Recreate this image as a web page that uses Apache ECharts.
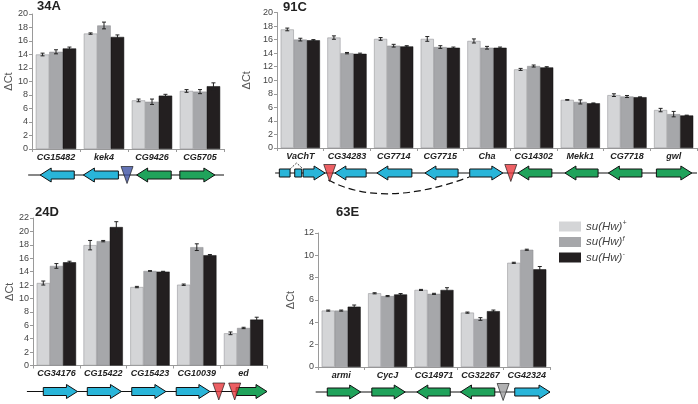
<!DOCTYPE html>
<html>
<head>
<meta charset="utf-8">
<script src="https://cdn.jsdelivr.net/npm/echarts@6.0.0/dist/echarts.min.js"></script>
<style>
  html, body { margin: 0; padding: 0; background: #fff; }
  #chart { width: 698px; height: 404px; }
</style>
</head>
<body>
<div id="chart"></div>
<script>
// series names
const seriesNames = ['su(Hw)+', 'su(Hw)f', 'su(Hw)-'];

// 34A
const cats34A = ['CG15482', 'kek4', 'CG9426', 'CG5705'];
const plus34A = [14.0, 17.1, 7.2, 8.6];
const flat34A = [14.4, 18.3, 7.0, 8.5];
const minus34A = [14.9, 16.6, 7.9, 9.3];
const errPlus34A = [0.2, 0.1, 0.2, 0.2];
const errFlat34A = [0.3, 0.5, 0.4, 0.3];
const errMinus34A = [0.2, 0.3, 0.2, 0.5];

// 91C
const cats91C = ['VaChT', 'CG34283', 'CG7714', 'CG7715', 'Cha', 'CG14302', 'Mekk1', 'CG7718', 'gwl'];
const plus91C = [17.5, 16.3, 16.1, 16.1, 15.8, 11.6, 7.1, 7.8, 5.6];
const flat91C = [16.0, 14.0, 15.1, 14.9, 14.8, 12.1, 6.8, 7.6, 5.0];
const minus91C = [15.9, 13.9, 15.0, 14.8, 14.8, 11.9, 6.6, 7.5, 4.8];
const errPlus91C = [0.2, 0.25, 0.2, 0.35, 0.3, 0.15, 0.05, 0.2, 0.25];
const errFlat91C = [0.2, 0.1, 0.2, 0.2, 0.2, 0.15, 0.3, 0.15, 0.4];
const errMinus91C = [0.1, 0.1, 0.1, 0.1, 0.1, 0.1, 0.05, 0.05, 0.05];

// 24D
const cats24D = ['CG34176', 'CG15422', 'CG15423', 'CG10039', 'ed'];
const plus24D = [12.3, 17.95, 11.7, 12.05, 4.8];
const flat24D = [14.85, 18.55, 14.1, 17.65, 5.6];
const minus24D = [15.4, 20.65, 14.0, 16.45, 6.85];
const errPlus24D = [0.3, 0.7, 0.1, 0.1, 0.2];
const errFlat24D = [0.35, 0.1, 0.05, 0.5, 0.1];
const errMinus24D = [0.15, 0.8, 0.05, 0.1, 0.35];

// 63E
const cats63E = ['armi', 'CycJ', 'CG14971', 'CG32267', 'CG42324'];
const plus63E = [5.05, 6.6, 6.9, 4.87, 9.33];
const flat63E = [5.05, 6.35, 6.55, 4.3, 10.5];
const minus63E = [5.4, 6.5, 6.9, 5.0, 8.75];
const errPlus63E = [0.05, 0.05, 0.05, 0.05, 0.05];
const errFlat63E = [0.05, 0.05, 0.05, 0.12, 0.05];
const errMinus63E = [0.15, 0.08, 0.2, 0.1, 0.25];

// gene maps, in category units: [start, end, strand, group]
const track34A = [-0.08, 4.0];
const genes34A = [[0.17, 0.88, -1, 'A'], [1.07, 1.8, -1, 'A'], [2.18, 2.9, -1, 'B'], [3.08, 3.81, 1, 'B']];
const sites34A = [[1.98, 'blue']];

const track91C = [-0.04, 9.0];
const genes91C = [[0.56, 1.03, 1, 'A'], [1.24, 1.91, -1, 'A'], [2.14, 2.89, -1, 'A'], [3.17, 3.88, -1, 'A'],
  [4.13, 4.84, 1, 'A'], [5.16, 5.89, -1, 'B'], [6.17, 6.88, -1, 'B'], [7.1, 7.82, -1, 'B'], [8.13, 8.89, 1, 'B']];
const sites91C = [[1.13, 'red'], [5.01, 'red']];
const exons91C = [[0.05, 0.28], [0.38, 0.53]];
const caret91C = [0.28, 0.56];
const splice91C = [1.1, 4.12];

const track24D = [-0.13, 5.0];
const genes24D = [[0.22, 0.95, 1, 'A'], [1.16, 1.89, 1, 'A'], [2.11, 2.84, 1, 'A'], [3.06, 3.78, 1, 'A'], [4.34, 5.0, 1, 'B']];
const sites24D = [[-0.01, 'gray'], [3.97, 'red'], [4.31, 'red']];

const track63E = [-0.05, 5.0];
const genes63E = [[0.2, 0.92, 1, 'B'], [1.16, 1.88, 1, 'B'], [2.13, 2.85, -1, 'B'], [3.07, 3.81, -1, 'B'], [4.24, 5.0, 1, 'A']];
const sites63E = [[-0.01, 'red'], [3.99, 'gray']];

const barColors = ['#d4d5d7', '#a6a7aa', '#231f20'];
const geneColors = { A: '#29b5d9', B: '#20a35b' };
const siteColors = { red: '#e8383d', gray: '#9d9d9f', blue: '#3d51a3' };
const font = "'Liberation Sans', Arial, sans-serif";
const gapRatio = 0.16;

const panels = [
  { title: '34A', cats: cats34A, vals: [plus34A, flat34A, minus34A], errs: [errPlus34A, errFlat34A, errMinus34A],
    max: 20, track: track34A, genes: genes34A, sites: sites34A,
    box: { left: 32, top: 14, width: 192, height: 135 }, row: 175, nameGap: 16, titlePos: [37, 0] },
  { title: '91C', cats: cats91C, vals: [plus91C, flat91C, minus91C], errs: [errPlus91C, errFlat91C, errMinus91C],
    max: 20, track: track91C, genes: genes91C, sites: sites91C, exons: exons91C, caret: caret91C, splice: splice91C,
    box: { left: 277, top: 12.5, width: 420, height: 135.5 }, row: 173, nameGap: 21, titlePos: [283, 1] },
  { title: '24D', cats: cats24D, vals: [plus24D, flat24D, minus24D], errs: [errPlus24D, errFlat24D, errMinus24D],
    max: 22, track: track24D, genes: genes24D, sites: sites24D,
    box: { left: 33, top: 218, width: 234, height: 147.5 }, row: 391.5, nameGap: 17, titlePos: [35, 206] },
  { title: '63E', cats: cats63E, vals: [plus63E, flat63E, minus63E], errs: [errPlus63E, errFlat63E, errMinus63E],
    max: 12, track: track63E, genes: genes63E, sites: sites63E,
    box: { left: 318, top: 233, width: 232, height: 134 }, row: 392, nameGap: 22, titlePos: [336, 206] }
];

const grid = [], xAxis = [], yAxis = [], series = [], title = [];

function arrowShape(x0, x1, y, dir) {
  const b = 4, h = 7, hl = 11;
  if (dir > 0) {
    return [[x0, y - b], [x1 - hl, y - b], [x1 - hl, y - h], [x1, y], [x1 - hl, y + h], [x1 - hl, y + b], [x0, y + b]];
  }
  return [[x1, y - b], [x0 + hl, y - b], [x0 + hl, y - h], [x0, y], [x0 + hl, y + h], [x0 + hl, y + b], [x1, y + b]];
}

panels.forEach((p, pi) => {
  const bg = pi * 2, gg = pi * 2 + 1;
  title.push({ text: p.title, left: p.titlePos[0], top: p.titlePos[1], padding: 0,
    textStyle: { fontFamily: font, fontSize: 13, fontWeight: 'bold', color: '#222' } });

  grid.push(Object.assign({ outerBoundsMode: 'none', containLabel: false }, p.box));
  grid.push({ outerBoundsMode: 'none', containLabel: false, left: p.box.left, width: p.box.width, top: p.row - 15, height: 30 });

  xAxis.push({
    type: 'category', gridIndex: bg, data: p.cats,
    axisLine: { lineStyle: { color: '#9a9a9a', width: 1 } },
    axisTick: { show: true, length: 3, interval: 0, lineStyle: { color: '#9a9a9a' } },
    axisLabel: { interval: 0, margin: 4, fontFamily: font, fontSize: 9, fontStyle: 'italic', fontWeight: 'bold', color: '#222' }
  });
  xAxis.push({ type: 'value', gridIndex: gg, min: 0, max: p.cats.length, show: false });

  yAxis.push({
    type: 'value', gridIndex: bg, min: 0, max: p.max, interval: 2,
    name: 'ΔCt', nameLocation: 'middle', nameGap: p.nameGap,
    nameTextStyle: { fontFamily: font, fontSize: 11, color: '#555' },
    axisLine: { show: true, lineStyle: { color: '#9a9a9a', width: 1 } },
    axisTick: { show: true, length: 3, lineStyle: { color: '#9a9a9a' } },
    axisLabel: { margin: 4, fontFamily: font, fontSize: 9, color: '#444' },
    splitLine: { show: false }
  });
  yAxis.push({ type: 'value', gridIndex: gg, min: 0, max: 1, show: false });

  // bars
  p.vals.forEach((vals, si) => {
    series.push({
      type: 'bar', name: seriesNames[si], xAxisIndex: bg, yAxisIndex: bg, data: vals,
      barGap: '0%', barCategoryGap: (gapRatio * 100) + '%',
      itemStyle: { color: barColors[si], borderColor: si === 2 ? '#111' : '#8a8b8e', borderWidth: 0.5 },
      emphasis: { disabled: true }, animation: false
    });
  });

  // error bars
  p.vals.forEach((vals, si) => {
    const off = si - 1;
    series.push({
      type: 'custom', xAxisIndex: bg, yAxisIndex: bg, z: 5, animation: false, silent: true,
      encode: { x: 0, y: 1 },
      data: vals.map((v, i) => [i, v, p.errs[si][i]]),
      renderItem: (params, api) => {
        const i = api.value(0), v = api.value(1), e = api.value(2);
        const band = api.size([1, 0])[0];
        const bw = band * (1 - gapRatio) / 3;
        const x = api.coord([i, v])[0] + off * bw;
        const hi = api.coord([i, v + e])[1];
        const lo = api.coord([i, v - e])[1];
        const st = { stroke: '#222', lineWidth: 1 };
        return { type: 'group', children: [
          { type: 'line', shape: { x1: x, y1: hi, x2: x, y2: lo }, style: st },
          { type: 'line', shape: { x1: x - 2, y1: hi, x2: x + 2, y2: hi }, style: st },
          { type: 'line', shape: { x1: x - 2, y1: lo, x2: x + 2, y2: lo }, style: st }
        ] };
      }
    });
  });

  // backbone line of the gene map
  series.push({
    type: 'custom', xAxisIndex: gg, yAxisIndex: gg, animation: false, silent: true, z: 2,
    data: [[p.track[0], p.track[1]]], encode: { x: [0, 1] },
    renderItem: (params, api) => {
      const a = api.coord([api.value(0), 0.5]), b = api.coord([api.value(1), 0.5]);
      return { type: 'line', shape: { x1: a[0], y1: a[1], x2: b[0], y2: b[1] }, style: { stroke: '#111', lineWidth: 1.2 } };
    }
  });

  if (p.splice) {
    series.push({
      type: 'custom', xAxisIndex: gg, yAxisIndex: gg, animation: false, silent: true, z: 2,
      data: [[p.splice[0], p.splice[1]]], encode: { x: [0, 1] },
      renderItem: (params, api) => {
        const a = api.coord([api.value(0), 0.5]), b = api.coord([api.value(1), 0.5]);
        return { type: 'bezierCurve',
          shape: { x1: a[0], y1: a[1] + 7, x2: b[0], y2: b[1] + 4, cpx1: a[0] + (b[0] - a[0]) * 0.38, cpy1: a[1] + 36 },
          style: { stroke: '#111', fill: null, lineWidth: 1.2, lineDash: [7, 4] } };
      }
    });
  }

  if (p.exons) {
    series.push({
      type: 'custom', xAxisIndex: gg, yAxisIndex: gg, animation: false, silent: true, z: 3,
      data: p.exons, encode: { x: [0, 1] },
      renderItem: (params, api) => {
        const a = api.coord([api.value(0), 0.5]), b = api.coord([api.value(1), 0.5]);
        return { type: 'rect', shape: { x: a[0], y: a[1] - 4, width: b[0] - a[0], height: 8 },
          style: { fill: geneColors.A, stroke: '#111', lineWidth: 1 } };
      }
    });
    series.push({
      type: 'custom', xAxisIndex: gg, yAxisIndex: gg, animation: false, silent: true, z: 3,
      data: [p.caret], encode: { x: [0, 1] },
      renderItem: (params, api) => {
        const a = api.coord([api.value(0), 0.5]), b = api.coord([api.value(1), 0.5]);
        const m = (a[0] + b[0]) / 2;
        return { type: 'polyline', shape: { points: [[a[0], a[1] - 4], [m, a[1] - 10], [b[0], b[1] - 4]] },
          style: { stroke: '#111', fill: null, lineWidth: 0.8, lineDash: [2, 1.5] } };
      }
    });
  }

  // genes
  series.push({
    type: 'custom', xAxisIndex: gg, yAxisIndex: gg, animation: false, silent: true, z: 3,
    data: p.genes.map(g => [g[0], g[1], g[2]]), encode: { x: [0, 1] },
    renderItem: (params, api) => {
      const a = api.coord([api.value(0), 0.5]), b = api.coord([api.value(1), 0.5]);
      const g = p.genes[params.dataIndex];
      return { type: 'polygon', shape: { points: arrowShape(a[0], b[0], a[1], api.value(2)) },
        style: { fill: geneColors[g[3]], stroke: '#111', lineWidth: 1 } };
    }
  });

  // insertion sites
  series.push({
    type: 'scatter', xAxisIndex: gg, yAxisIndex: gg, animation: false, silent: true, z: 4,
    symbol: 'triangle', symbolRotate: 180, symbolSize: [12, 17],
    data: p.sites.map(s => ({ value: [s[0], 0.5], itemStyle: { color: siteColors[s[1]], borderColor: '#111', borderWidth: 0.8 } }))
  });
});

const chart = echarts.init(document.getElementById('chart'), null, { renderer: 'canvas' });
chart.setOption({
  animation: false,
  backgroundColor: '#fff',
  title,
  grid, xAxis, yAxis, series,
  legend: {
    data: seriesNames, orient: 'vertical', left: 559, top: 220, padding: 0,
    icon: 'rect', itemWidth: 22, itemHeight: 10, itemGap: 3,
    itemStyle: { borderWidth: 0 },
    selectedMode: false,
    formatter: (name) => '{a|su(Hw)}{s|' + name.slice(6) + '}',
    textStyle: {
      fontFamily: font, color: '#444',
      rich: {
        a: { fontFamily: font, fontSize: 11.5, fontStyle: 'italic', color: '#444' },
        s: { fontFamily: font, fontSize: 7, fontStyle: 'italic', color: '#444', padding: [0, 0, 6, 0] }
      }
    }
  }
});
</script>
</body>
</html>
